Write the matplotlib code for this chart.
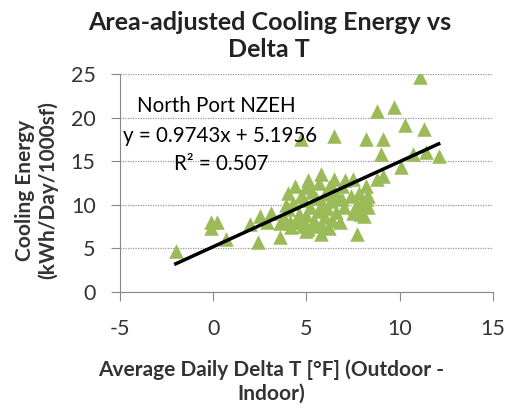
import numpy as np
import matplotlib
matplotlib.use("Agg")
import matplotlib.pyplot as plt

plt.rcParams['font.family'] = ['Lato', 'DejaVu Sans']
plt.rcParams['axes.unicode_minus'] = False

# delta T (F) and cooling energy (kWh/day/1000sf)
delta_t = [-2.0, -0.1, 0.2, -0.1, 0.7, 2.4, 2.0, 2.5, 3.1, 2.9, 4.0, 4.7, 6.5,
           3.6, 5.0, 5.8, 7.7, 5.1, 5.8, 6.3, 7.1, 7.5, 8.2, 9.1, 8.8, 9.7,
           11.1, 10.3, 11.3, 9.0, 10.7, 11.4, 12.1, 10.1, 8.8, 9.1, 8.2, 8.2,
           8.2, 7.5, 8.1, 7.8, 7.4, 6.9,
           3.8, 4.0, 4.2, 4.3, 4.5, 4.6, 4.7, 4.8, 4.9, 5.0, 5.0, 5.2, 5.3,
           5.4, 5.5, 5.6, 5.7, 5.8, 5.9, 6.0, 6.0, 6.1, 6.2, 6.3, 6.4, 6.5,
           6.6, 6.7, 6.8, 6.9, 7.0, 4.4, 5.1, 6.2, 3.6, 4.1, 5.5, 4.9, 3.9,
           6.5, 7.6, 7.9, 8.3, 8.0, 7.7, 8.3]
cooling = [4.7, 8.0, 8.0, 7.3, 6.1, 5.7, 7.8, 8.75, 9.1, 8.0, 11.4, 17.5, 17.9,
           6.3, 7.0, 6.65, 6.65, 12.8, 13.5, 12.2, 12.8, 13.0, 17.5, 17.5, 20.8,
           21.2, 24.6, 19.1, 18.7, 15.8, 15.8, 16.0, 15.6, 14.3, 13.0, 13.3,
           12.2, 10.7, 10.0, 9.1, 8.75, 11.4, 11.0, 10.7,
           8.5, 9.5, 7.5, 10.2, 8.0, 9.0, 11.0, 7.6, 10.5, 12.0, 8.8, 9.8,
           11.5, 8.2, 10.8, 9.3, 12.5, 7.8, 10.0, 11.2, 8.6, 9.6, 12.0, 10.4,
           8.3, 11.6, 9.2, 10.9, 8.0, 12.2, 9.8, 12.1, 7.2, 7.3, 7.9, 8.0,
           7.6, 8.0, 10.0, 13.0, 9.6, 9.0, 9.8, 10.3, 10.0, 11.0]

slope = 0.9743
intercept = 5.1956
r_squared = 0.507

fig = plt.figure(figsize=(5.08, 4.08), dpi=100)
ax = fig.add_axes([0.236, 0.284, 0.734, 0.535])

ax.scatter(delta_t, cooling, marker='^', s=110, color='#9bbb59', linewidths=0, zorder=3)

xfit = np.array([min(delta_t), max(delta_t)])
ax.plot(xfit, slope * xfit + intercept, color='black', lw=2.5, zorder=4)

ax.set_xlim(-5, 15)
ax.set_ylim(0, 25)
ax.set_xticks([-5, 0, 5, 10, 15])
ax.set_yticks([0, 5, 10, 15, 20, 25])
ax.yaxis.grid(True, color='#999999', linestyle=(0, (1, 1)), lw=0.9)
ax.set_axisbelow(True)
for s in ['top', 'right']:
    ax.spines[s].set_visible(False)
for s in ['left', 'bottom']:
    ax.spines[s].set_color('#888888')
ax.tick_params(colors='#888888', labelcolor='#333333', labelsize=15.5, length=6.5, direction='out')
ax.tick_params(axis='x', pad=13)
ax.tick_params(axis='y', pad=11)

ax.text(-4.09, 20.64, 'North Port NZEH', fontsize=14.8, color='black', va='baseline')
ax.text(-4.84, 17.2, 'y = 0.9743x + 5.1956', fontsize=14.8, color='black', va='baseline')
ax.text(-2.1, 14.0, 'R² = 0.507', fontsize=14.8, color='black', va='baseline')

fig.text(0.53, 0.912, 'Area-adjusted Cooling Energy vs\nDelta T', fontsize=18, fontweight='bold',
         color='#222222', ha='center', va='center', linespacing=1.2)
fig.text(0.533, 0.065, 'Average Daily Delta T [°F] (Outdoor -\nIndoor)', fontsize=15,
         fontweight='bold', color='#333333', ha='center', va='center', linespacing=1.2)
fig.text(0.072, 0.534, 'Cooling Energy\n(kWh/Day/1000sf)', fontsize=15, fontweight='bold',
         color='#333333', ha='center', va='center', rotation=90, linespacing=1.2)

fig.savefig('out.png', dpi=100)
